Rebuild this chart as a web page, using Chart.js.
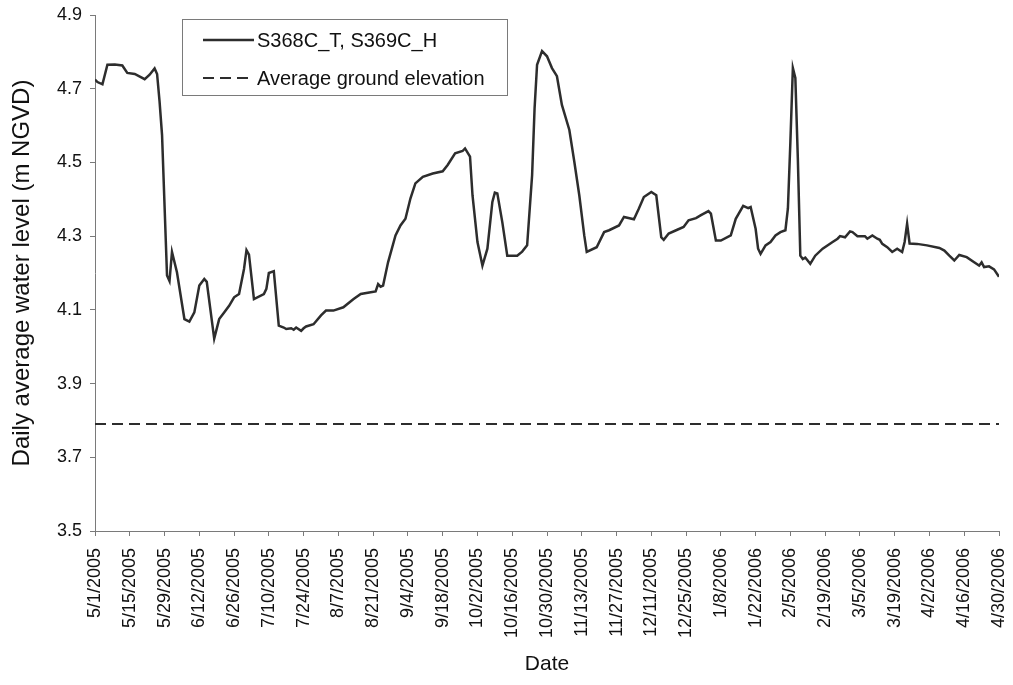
<!DOCTYPE html>
<html>
<head>
<meta charset="utf-8">
<script src="https://cdn.jsdelivr.net/npm/chart.js@4/dist/chart.umd.min.js"></script>
<style>
  html, body { margin: 0; padding: 0; background: #fff; }
  canvas { display: block; }
</style>
</head>
<body>
<canvas id="c" width="1013" height="685"></canvas>
<script>
// Day index counted from 5/1/2005 (day 0) to 4/30/2006 (day 364)
const days = [
  0, 1, 3, 5, 8, 11, 13, 16, 20, 22, 24, 25, 26, 27, 29, 30, 31, 33, 36, 38,
  40, 42, 44, 45, 48, 50, 52, 54, 56, 58, 60, 61, 62, 64, 68, 69, 70, 72, 74, 76,
  77, 79, 80, 81, 83, 84, 85, 88, 91, 93, 96, 100, 104, 107, 111, 113, 114, 115, 116, 118,
  121, 123, 125, 127, 129, 132, 136, 140, 142, 145, 148, 149, 151, 152, 154, 155, 156, 158, 160, 161,
  162, 164, 166, 170, 172, 174, 176, 177, 178, 180, 182, 184, 186, 188, 191, 193, 195, 197, 198, 202,
  205, 207, 211, 213, 217, 219, 221, 224, 226, 228, 229, 231, 234, 237, 239, 242, 244, 247, 248, 250,
  252, 256, 258, 261, 263, 264, 266, 267, 268, 270, 272, 274, 276, 278, 279, 280, 281, 282, 283, 284,
  285, 286, 288, 290, 293, 297, 299, 300, 302, 304, 305, 307, 310, 311, 313, 315, 316, 317, 319, 321,
  323, 325, 326, 327, 328, 331, 335, 340, 342, 344, 346, 348, 351, 354, 356, 357, 358, 360, 362, 364
];

// Daily average water level, S368C_T / S369C_H (m NGVD)
const waterLevel = [
  4.725, 4.718, 4.712, 4.765, 4.766, 4.763, 4.743, 4.740, 4.726, 4.738, 4.755, 4.740, 4.665, 4.574, 4.193, 4.178, 4.257, 4.202, 4.075, 4.068,
  4.093, 4.166, 4.184, 4.176, 4.022, 4.075, 4.093, 4.111, 4.134, 4.143, 4.211, 4.262, 4.250, 4.129, 4.143, 4.157, 4.200, 4.205, 4.057, 4.052,
  4.048, 4.050, 4.046, 4.052, 4.043, 4.050, 4.055, 4.061, 4.085, 4.098, 4.098, 4.107, 4.129, 4.143, 4.148, 4.150, 4.170, 4.163, 4.166, 4.229,
  4.302, 4.329, 4.347, 4.402, 4.443, 4.461, 4.470, 4.476, 4.493, 4.525, 4.531, 4.538, 4.516, 4.411, 4.284, 4.252, 4.220, 4.266, 4.393, 4.418,
  4.416, 4.338, 4.247, 4.247, 4.258, 4.275, 4.465, 4.647, 4.765, 4.802, 4.788, 4.756, 4.734, 4.656, 4.588, 4.502, 4.411, 4.302, 4.257, 4.270,
  4.311, 4.316, 4.329, 4.352, 4.346, 4.375, 4.406, 4.420, 4.411, 4.297, 4.290, 4.307, 4.316, 4.325, 4.343, 4.349, 4.357, 4.368, 4.361, 4.288,
  4.288, 4.302, 4.347, 4.382, 4.376, 4.379, 4.320, 4.266, 4.252, 4.275, 4.284, 4.302, 4.311, 4.316, 4.375, 4.556, 4.756, 4.729, 4.511, 4.247,
  4.238, 4.242, 4.225, 4.247, 4.266, 4.284, 4.293, 4.300, 4.297, 4.313, 4.311, 4.300, 4.300, 4.293, 4.302, 4.293, 4.290, 4.279, 4.270, 4.257,
  4.266, 4.257, 4.284, 4.334, 4.280, 4.279, 4.275, 4.268, 4.261, 4.247, 4.234, 4.249, 4.243, 4.229, 4.220, 4.229, 4.216, 4.218, 4.210, 4.190
];

// Average ground elevation (m NGVD)
const groundElevation = 3.79;
const groundDays = [0, 364];

// Date tick labels, one every 14 days
const tickLabels = [
  '5/1/2005', '5/15/2005', '5/29/2005', '6/12/2005', '6/26/2005', '7/10/2005', '7/24/2005',
  '8/7/2005', '8/21/2005', '9/4/2005', '9/18/2005', '10/2/2005', '10/16/2005', '10/30/2005',
  '11/13/2005', '11/27/2005', '12/11/2005', '12/25/2005', '1/8/2006', '1/22/2006', '2/5/2006',
  '2/19/2006', '3/5/2006', '3/19/2006', '4/2/2006', '4/16/2006', '4/30/2006'
];

const seriesLabels = ['S368C_T, S369C_H', 'Average ground elevation'];

const FONT = '"Liberation Sans", Arial, sans-serif';
const INK = '#111111';
const LINE = '#2d2d2d';
const AXIS = '#7a7a7a';

// Boxed legend in the upper left of the plot
const boxedLegend = {
  id: 'boxedLegend',
  afterDraw(chart) {
    const ctx = chart.ctx;
    ctx.save();
    ctx.strokeStyle = AXIS;
    ctx.lineWidth = 1;
    ctx.strokeRect(182.5, 19.5, 325, 76);
    const rows = [40, 78];
    chart.data.datasets.forEach((ds, i) => {
      const y = rows[i];
      ctx.strokeStyle = ds.borderColor;
      ctx.lineWidth = ds.borderWidth;
      ctx.setLineDash(ds.borderDash || []);
      ctx.beginPath();
      ctx.moveTo(203, y);
      ctx.lineTo(254, y);
      ctx.stroke();
      ctx.setLineDash([]);
      ctx.fillStyle = INK;
      ctx.font = '20px ' + FONT;
      ctx.textBaseline = 'middle';
      ctx.textAlign = 'left';
      ctx.fillText(ds.label, 257, y + 1);
    });
    ctx.restore();
  }
};

new Chart(document.getElementById('c'), {
  type: 'line',
  data: {
    datasets: [
      {
        label: seriesLabels[0],
        data: days.map((d, i) => ({ x: d, y: waterLevel[i] })),
        borderColor: LINE,
        borderWidth: 2.5,
        pointRadius: 0,
        tension: 0,
        fill: false
      },
      {
        label: seriesLabels[1],
        data: groundDays.map(d => ({ x: d, y: groundElevation })),
        borderColor: LINE,
        borderWidth: 2,
        borderDash: [11, 6],
        pointRadius: 0,
        fill: false
      }
    ]
  },
  options: {
    responsive: false,
    animation: false,
    events: [],
    layout: { padding: { top: 15, right: 14, left: 0, bottom: 0 } },
    plugins: {
      legend: { display: false },
      tooltip: { enabled: false }
    },
    scales: {
      x: {
        type: 'linear',
        min: 0,
        max: 364,
        afterFit(scale) {
          scale.height = 154;
          scale.paddingLeft = 0;
          scale.paddingRight = 0;
        },
        border: { color: AXIS, width: 1 },
        grid: { drawOnChartArea: false, drawTicks: true, tickLength: 5, color: AXIS },
        ticks: {
          stepSize: 14,
          autoSkip: false,
          maxRotation: 90,
          minRotation: 90,
          padding: 12,
          color: INK,
          font: { family: FONT, size: 18 },
          callback: v => tickLabels[Math.round(v / 14)]
        },
        title: {
          display: true,
          text: 'Date',
          color: INK,
          font: { family: FONT, size: 21 },
          padding: { top: 0, bottom: 8 }
        }
      },
      y: {
        min: 3.5,
        max: 4.9,
        afterFit(scale) {
          scale.width = 95;
          scale.paddingTop = 0;
          scale.paddingBottom = 0;
        },
        border: { color: AXIS, width: 1 },
        grid: { drawOnChartArea: false, drawTicks: true, tickLength: 5, color: AXIS },
        ticks: {
          stepSize: 0.2,
          padding: 8,
          color: INK,
          font: { family: FONT, size: 18 },
          callback: v => v.toFixed(1)
        },
        title: {
          display: true,
          text: 'Daily average water level (m NGVD)',
          color: INK,
          font: { family: FONT, size: 24 },
          padding: { top: 8, bottom: 0 }
        }
      }
    }
  },
  plugins: [boxedLegend]
});
</script>
</body>
</html>
